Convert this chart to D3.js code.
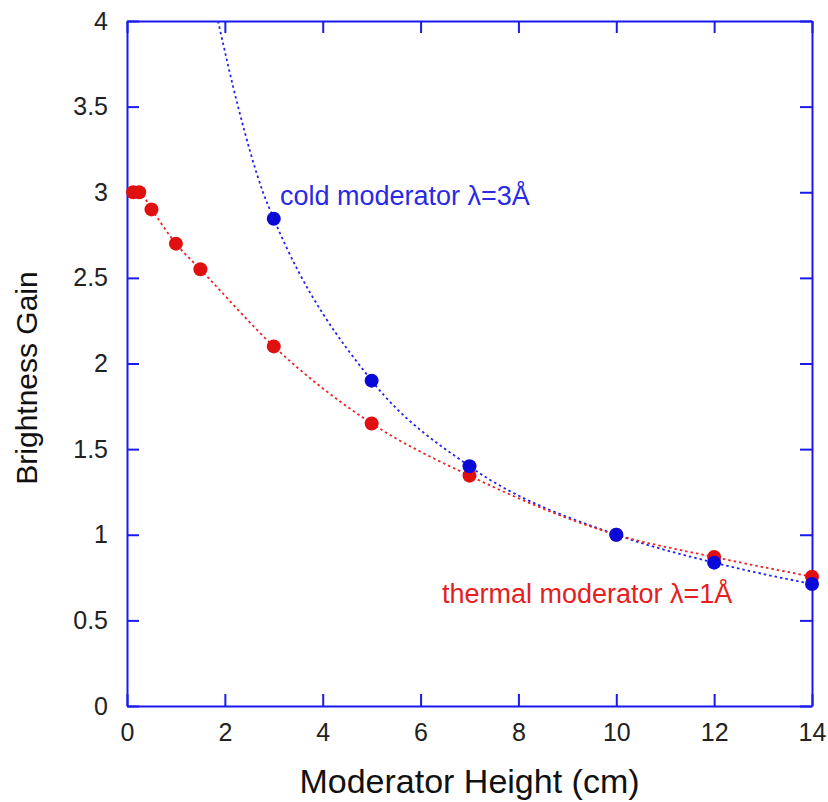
<!DOCTYPE html>
<html>
<head>
<meta charset="utf-8">
<script src="https://cdn.jsdelivr.net/npm/d3@7"></script>
<style>
  body { margin: 0; background: #fff; }
  text { font-family: "Liberation Sans", Arial, Helvetica, sans-serif; }
</style>
</head>
<body>
<div id="chart"></div>
<script>
// thermal moderator (lambda = 1 A)
var thermalX = [0.125, 0.25, 0.5, 1, 1.5, 3, 5, 7, 10, 12, 14];
var thermalY = [3.0, 3.0, 2.9, 2.7, 2.55, 2.1, 1.65, 1.345, 1.0, 0.87, 0.755];

// cold moderator (lambda = 3 A)
var coldX = [3, 5, 7, 10, 12, 14];
var coldY = [2.845, 1.9, 1.4, 1.0, 0.837, 0.712];

// cold fit line above the first point
var coldFitX = [1.86, 2.27, 2.78, 3, 5, 7, 10, 12, 14];
var coldFitY = [4.0, 3.5, 3.0, 2.845, 1.9, 1.4, 1.0, 0.837, 0.712];

var xTicks = [0, 2, 4, 6, 8, 10, 12, 14];
var yTicks = [0, 0.5, 1, 1.5, 2, 2.5, 3, 3.5, 4];

var W = 828, H = 802;
var margin = {left: 127, right: 16, top: 21, bottom: 96};

var svg = d3.select("#chart").append("svg").attr("width", W).attr("height", H);

var x = d3.scaleLinear().domain([0, 14]).range([margin.left, W - margin.right]);
var y = d3.scaleLinear().domain([0, 4]).range([H - margin.bottom, margin.top]);

var axisCol = "#1a1aee", red = "#e01010", blue = "#0a0ad8";

svg.append("clipPath").attr("id", "clip").append("rect")
  .attr("x", x(0)).attr("y", y(4)).attr("width", x(14) - x(0)).attr("height", y(0) - y(4));

// axes, ticks point inwards on all four sides
function styleAxis(g) {
  g.selectAll("path, line").style("stroke", axisCol).style("stroke-width", 2);
  g.selectAll("text").style("font-size", "25px").style("fill", "#222");
}

svg.append("g").attr("transform", "translate(0," + y(0) + ")")
  .call(d3.axisBottom(x).tickValues(xTicks).tickSize(-12).tickSizeOuter(0).tickPadding(17).tickFormat(d3.format("d")))
  .call(styleAxis);

svg.append("g").attr("transform", "translate(" + x(0) + ",0)")
  .call(d3.axisLeft(y).tickValues(yTicks).tickSize(-12).tickSizeOuter(0).tickPadding(19).tickFormat(function(d) { return d; }))
  .call(styleAxis);

svg.append("g").attr("transform", "translate(0," + y(4) + ")")
  .call(d3.axisTop(x).tickValues(xTicks).tickSize(-12).tickSizeOuter(0).tickFormat(""))
  .call(styleAxis);

svg.append("g").attr("transform", "translate(" + x(14) + ",0)")
  .call(d3.axisRight(y).tickValues(yTicks).tickSize(-12).tickSizeOuter(0).tickFormat(""))
  .call(styleAxis);

// lines
var line = d3.line().x(function(d) { return x(d[0]); }).y(function(d) { return y(d[1]); })
  .curve(d3.curveMonotoneX);

svg.append("path").datum(d3.zip(coldFitX, coldFitY)).attr("d", line)
  .attr("clip-path", "url(#clip)")
  .style("fill", "none").style("stroke", "#2222ee").style("stroke-width", 1.8).style("stroke-dasharray", "2.5 3");

svg.append("path").datum(d3.zip(thermalX, thermalY)).attr("d", line)
  .style("fill", "none").style("stroke", "#ee2222").style("stroke-width", 1.8).style("stroke-dasharray", "2.5 3");

// points
svg.append("g").selectAll("circle").data(d3.zip(thermalX, thermalY)).enter()
  .append("circle")
  .attr("cx", function(d) { return x(d[0]); }).attr("cy", function(d) { return y(d[1]); }).attr("r", 7)
  .style("fill", red);

svg.append("g").selectAll("circle").data(d3.zip(coldX, coldY)).enter()
  .append("circle")
  .attr("cx", function(d) { return x(d[0]); }).attr("cy", function(d) { return y(d[1]); }).attr("r", 7)
  .style("fill", blue);

// labels
svg.append("text").attr("x", 280).attr("y", 205)
  .style("font-size", "27px").style("fill", "#2a2ae6").text("cold moderator \u03bb=3\u00c5");

svg.append("text").attr("x", 442).attr("y", 603)
  .style("font-size", "27px").style("fill", "#e42020").text("thermal moderator \u03bb=1\u00c5");

svg.append("text").attr("x", (x(0) + x(14)) / 2).attr("y", 793)
  .attr("text-anchor", "middle").style("font-size", "34px").style("fill", "#111")
  .text("Moderator Height (cm)");

svg.append("text").attr("transform", "translate(37,378) rotate(-90)")
  .attr("text-anchor", "middle").style("font-size", "30px").style("fill", "#111")
  .text("Brightness Gain");
</script>
</body>
</html>
